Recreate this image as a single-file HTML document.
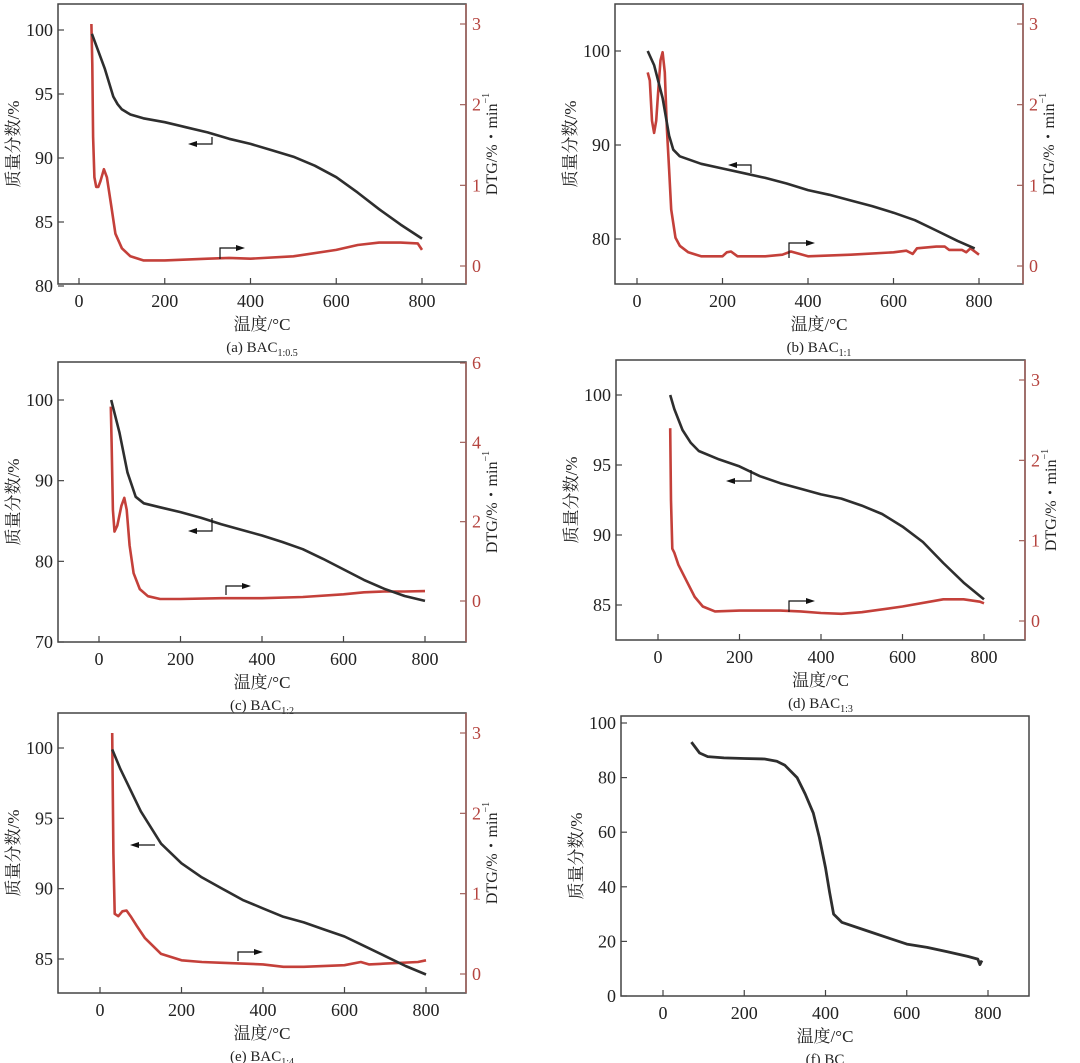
<!DOCTYPE html>
<html><head><meta charset="utf-8">
<style>
html,body{margin:0;padding:0;background:#fff;}
svg{display:block;font-family:"Liberation Serif","Noto Serif CJK SC",serif;}
</style></head>
<body>
<svg id="fig" width="1080" height="1063" viewBox="0 0 1080 1063" xmlns="http://www.w3.org/2000/svg"></svg>
<script>
// ---- data arrays ----
const aTgT=[30,40,60,80,90,100,120,150,200,250,300,350,400,450,500,550,600,650,700,750,800];
const aTgV=[99.7,98.8,97,94.8,94.2,93.8,93.4,93.1,92.8,92.4,92.0,91.5,91.1,90.6,90.1,89.4,88.5,87.3,86.0,84.8,83.7];
const aDtgT=[29,31,33,36,40,45,50,58,65,75,85,100,120,150,200,300,350,400,500,600,650,700,750,790,800];
const aDtgV=[3.0,2.5,1.6,1.1,0.98,0.98,1.05,1.2,1.1,0.75,0.4,0.22,0.12,0.07,0.07,0.09,0.1,0.09,0.12,0.2,0.26,0.29,0.29,0.28,0.2];

const bTgT=[25,40,60,75,85,100,150,200,250,300,350,400,450,500,550,600,650,700,750,790];
const bTgV=[100,98.5,95,91,89.5,88.8,88,87.5,87,86.5,85.9,85.2,84.7,84.1,83.5,82.8,82,80.9,79.8,79];
const bDtgT=[25,30,35,40,45,50,55,60,65,70,75,80,90,100,120,150,200,210,220,235,300,340,360,380,400,500,600,630,645,655,700,720,730,760,770,780,800];
const bDtgV=[2.4,2.3,1.8,1.65,1.8,2.2,2.55,2.65,2.4,1.7,1.2,0.7,0.35,0.25,0.17,0.12,0.12,0.17,0.18,0.12,0.12,0.14,0.18,0.15,0.12,0.14,0.17,0.19,0.15,0.22,0.24,0.24,0.2,0.2,0.17,0.22,0.14];

const cTgT=[30,50,70,90,110,150,200,250,300,350,400,450,500,550,600,650,700,750,800];
const cTgV=[100,96,91,88,87.2,86.7,86.1,85.4,84.6,83.9,83.2,82.4,81.5,80.3,79.0,77.7,76.6,75.7,75.1];
const cDtgT=[29,31,34,38,45,55,62,68,75,85,100,120,150,200,300,400,500,600,650,700,750,800];
const cDtgV=[4.9,4.0,2.3,1.75,1.9,2.4,2.6,2.3,1.4,0.7,0.3,0.12,0.05,0.05,0.07,0.07,0.1,0.17,0.22,0.24,0.24,0.25];

const dTgT=[30,40,60,80,100,150,200,250,300,350,400,450,500,550,600,650,700,750,800];
const dTgV=[100,99,97.5,96.6,96.0,95.4,94.9,94.2,93.7,93.3,92.9,92.6,92.1,91.5,90.6,89.5,88.0,86.6,85.4];
const dDtgT=[30,32,35,40,50,70,90,110,140,200,300,350,400,450,500,600,700,750,790,800];
const dDtgV=[2.4,1.5,0.9,0.85,0.7,0.5,0.3,0.18,0.12,0.13,0.13,0.12,0.1,0.09,0.11,0.18,0.27,0.27,0.24,0.22];

const eTgT=[30,50,100,150,200,250,300,350,400,450,500,550,600,650,700,750,800];
const eTgV=[99.9,98.5,95.5,93.2,91.8,90.8,90.0,89.2,88.6,88.0,87.6,87.1,86.6,85.9,85.2,84.5,83.9];
const eDtgT=[30,31,33,36,45,55,65,75,90,110,150,200,250,300,400,450,500,600,640,660,700,780,800];
const eDtgV=[3.0,2.5,1.5,0.75,0.72,0.78,0.79,0.72,0.6,0.45,0.25,0.17,0.15,0.14,0.12,0.09,0.09,0.11,0.15,0.12,0.13,0.15,0.17];

const fTgT=[70,90,110,150,200,250,280,300,330,350,370,385,400,410,420,440,500,550,600,650,700,750,775,780,785];
const fTgV=[93,89,87.7,87.2,87,86.8,86,84.5,80,74,67,58,47,38,30,27,24,21.5,19,17.8,16.2,14.5,13.5,11.5,13];

const xTicks=[0,200,400,600,800];
const tgTicksA=[80,85,90,95,100], tgTicksB=[80,90,100], tgTicksC=[70,80,90,100], tgTicksD=[85,90,95,100], tgTicksF=[0,20,40,60,80,100];
const dtgTicks3=[0,1,2,3], dtgTicks6=[0,2,4,6];

const NS="http://www.w3.org/2000/svg";
const svg=document.getElementById('fig');
function el(tag,attrs,parent,text){const e=document.createElementNS(NS,tag);for(const k in attrs)e.setAttribute(k,attrs[k]);if(text!==undefined)e.textContent=text;(parent||svg).appendChild(e);return e;}
function lin(v0,p0,v1,p1){return v=>p0+(v-v0)*(p1-p0)/(v1-v0);}

function panel(c){
  const g=el('g',{});
  
  
  const X=lin(0,c.x0,800,c.x800), YL=lin(c.lv0,c.lp0,c.lv1,c.lp1);
  const box=el('rect',{x:c.l,y:c.t,width:c.r-c.l,height:c.b-c.t,fill:'none',stroke:'#444','stroke-width':1.5},g);
  
  if(c.dtg){el('line',{x1:c.r,y1:c.t,x2:c.r,y2:c.b,stroke:'#a0605a','stroke-width':1.5},g);}
  xTicks.forEach(v=>{
    el('line',{x1:X(v),y1:c.b,x2:X(v),y2:c.b-6,stroke:'#444','stroke-width':1.2},g);
    const t=el('text',{x:X(v),y:c.b+23,'font-size':18,'text-anchor':'middle',fill:'#222'},g,String(v));
    
  });
  c.lt.forEach(v=>{
    el('line',{x1:c.l,y1:YL(v),x2:c.l+6,y2:YL(v),stroke:'#444','stroke-width':1.2},g);
    const t=el('text',{x:c.l-5,y:YL(v)+6,'font-size':18,'text-anchor':'end',fill:'#222'},g,String(v));
    
  });
  const xl=el('text',{x:(c.l+c.r)/2,y:c.b+46,'font-size':17,'text-anchor':'middle',fill:'#222'},g,'温度/°C');
  
  const cap=el('text',{x:(c.l+c.r)/2,y:c.b+68,'font-size':15,'text-anchor':'middle',fill:'#222'},g);
  
  el('tspan',{},cap,c.cap);
  if(c.sub){el('tspan',{'font-size':10,dy:4},cap,c.sub);}
  const ly=(c.t+c.b)/2;
  const yl=el('text',{x:c.l-43,y:ly,'font-size':17,'text-anchor':'middle',fill:'#222',transform:`rotate(-90 ${c.l-43} ${ly})`,'dominant-baseline':'middle'},g,'质量分数/%');
  
  const path=(T,V,Y)=>T.map((t,i)=>(i?'L':'M')+X(t).toFixed(1)+','+Y(V[i]).toFixed(1)).join(' ');
  if(c.dtg){
    const YR=lin(c.rv0,c.rp0,c.rv1,c.rp1);
    c.rt.forEach(v=>{
      el('line',{x1:c.r,y1:YR(v),x2:c.r-6,y2:YR(v),stroke:'#a0605a','stroke-width':1.2},g);
      const t=el('text',{x:c.r+6,y:YR(v)+6,'font-size':18,fill:'#b5443f'},g,String(v));
      
    });
    const rx=c.r+27;
    const yr=el('text',{x:rx,y:ly,'font-size':16,'text-anchor':'middle',fill:'#222',transform:`rotate(-90 ${rx} ${ly})`,'dominant-baseline':'middle'},g);
    
    el('tspan',{},yr,'DTG/%・min');el('tspan',{'font-size':10,dy:-6},yr,'−1');
    const dl=el('path',{d:path(c.dtgT,c.dtgV,YR),fill:'none',stroke:'#c4403a','stroke-width':2.6,'stroke-linejoin':'round'},g);
    
  }
  const tl=el('path',{d:path(c.tgT,c.tgV,YL),fill:'none',stroke:'#2e2e2e','stroke-width':c.dtg?2.6:2.8,'stroke-linejoin':'round'},g);
  
  (c.arrows||[]).forEach(a=>{
    const p=el('path',{d:a.d,fill:'none',stroke:'#111','stroke-width':1.2},g);
    
    const [hx,hy,dir]=a.h;
    el('path',{d:`M${hx},${hy} l${-9*dir},-3 l0,6 z`,fill:'#111'},g);
  });
}

panel({id:'a',l:58,t:4,r:466,b:284,x0:79,x800:422,lv0:100,lp0:30,lv1:80,lp1:286,lt:tgTicksA,dtg:true,rv0:3,rp0:24,rv1:0,rp1:266,rt:dtgTicks3,
  tgT:aTgT,tgV:aTgV,dtgT:aDtgT,dtgV:aDtgV,cap:'(a) BAC',sub:'1:0.5',
  arrows:[{d:'M212,137 L212,144 L192,144',h:[188,144,-1]},{d:'M220,259 L220,248 L241,248',h:[245,248,1]}]});
panel({id:'b',l:615,t:4,r:1023,b:284,x0:637,x800:979,lv0:100,lp0:51,lv1:80,lp1:239,lt:tgTicksB,dtg:true,rv0:3,rp0:24,rv1:0,rp1:266,rt:dtgTicks3,
  tgT:bTgT,tgV:bTgV,dtgT:bDtgT,dtgV:bDtgV,cap:'(b) BAC',sub:'1:1',
  arrows:[{d:'M751,173 L751,165 L732,165',h:[728,165,-1]},{d:'M789,258 L789,243 L811,243',h:[815,243,1]}]});
panel({id:'c',l:58,t:362,r:466,b:642,x0:99,x800:425,lv0:100,lp0:400,lv1:70,lp1:642,lt:tgTicksC,dtg:true,rv0:6,rp0:363,rv1:0,rp1:601,rt:dtgTicks6,
  tgT:cTgT,tgV:cTgV,dtgT:cDtgT,dtgV:cDtgV,cap:'(c) BAC',sub:'1:2',
  arrows:[{d:'M212,518 L212,531 L192,531',h:[188,531,-1]},{d:'M226,595 L226,586 L247,586',h:[251,586,1]}]});
panel({id:'d',l:616,t:360,r:1025,b:640,x0:658,x800:984,lv0:100,lp0:395,lv1:85,lp1:605,lt:tgTicksD,dtg:true,rv0:3,rp0:380,rv1:0,rp1:621,rt:dtgTicks3,
  tgT:dTgT,tgV:dTgV,dtgT:dDtgT,dtgV:dDtgV,cap:'(d) BAC',sub:'1:3',
  arrows:[{d:'M751,470 L751,481 L730,481',h:[726,481,-1]},{d:'M789,612 L789,601 L811,601',h:[815,601,1]}]});
panel({id:'e',l:58,t:713,r:466,b:993,x0:100,x800:426,lv0:100,lp0:748,lv1:85,lp1:959,lt:tgTicksD,dtg:true,rv0:3,rp0:733,rv1:0,rp1:974,rt:dtgTicks3,
  tgT:eTgT,tgV:eTgV,dtgT:eDtgT,dtgV:eDtgV,cap:'(e) BAC',sub:'1:4',
  arrows:[{d:'M155,845 L134,845',h:[130,845,-1]},{d:'M238,961 L238,952 L259,952',h:[263,952,1]}]});
panel({id:'f',l:621,t:716,r:1029,b:996,x0:663,x800:988,lv0:100,lp0:723,lv1:0,lp1:996,lt:tgTicksF,dtg:false,
  tgT:fTgT,tgV:fTgV,cap:'(f) BC',sub:''});
</script>
</body></html>
